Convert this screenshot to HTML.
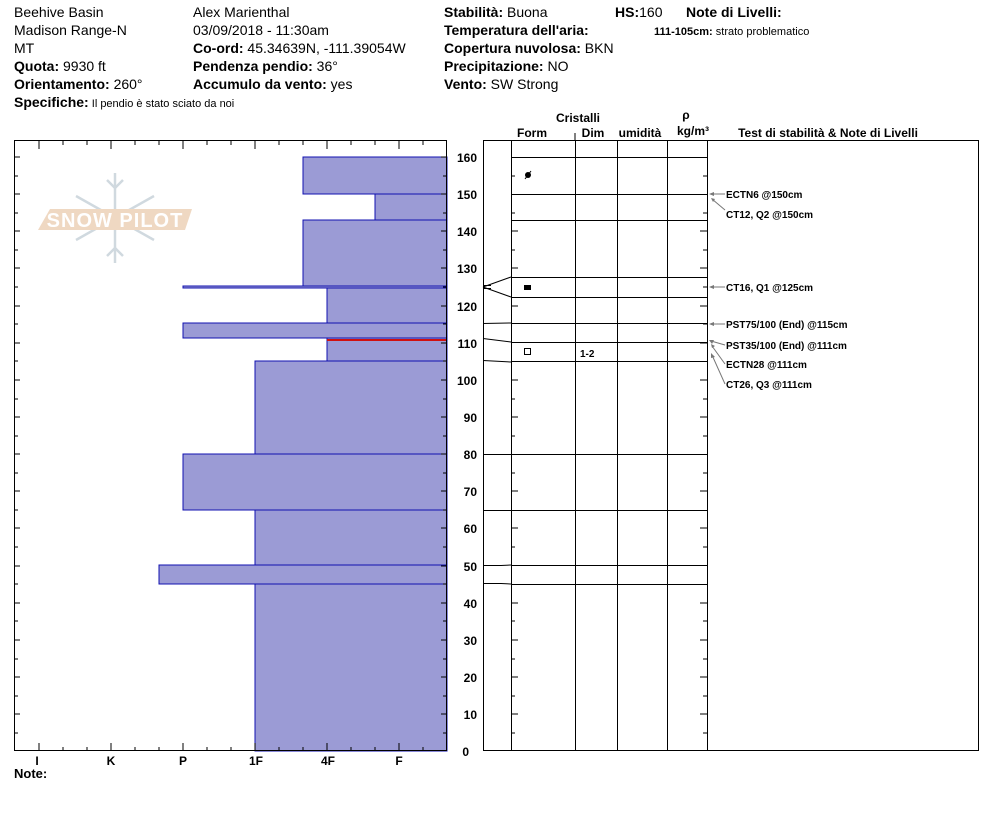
<!DOCTYPE html>
<html><head><meta charset="utf-8"><style>
body{margin:0;background:#fff;}
svg{display:block;font-family:"Liberation Sans",Arial,sans-serif;}
.h{font-size:14px;fill:#000}
.b{font-weight:bold}
.s{font-size:11px;font-weight:bold}
</style></head><body>
<svg width="994" height="840" viewBox="0 0 994 840" xmlns="http://www.w3.org/2000/svg">
<!-- header -->
<g class="h">
<text x="14" y="17">Beehive Basin</text>
<text x="14" y="35">Madison Range-N</text>
<text x="14" y="53">MT</text>
<text x="14" y="71"><tspan class="b">Quota:</tspan> 9930 ft</text>
<text x="14" y="89"><tspan class="b">Orientamento:</tspan> 260°</text>
<text x="14" y="107"><tspan class="b">Specifiche:</tspan><tspan font-size="11"> Il pendio è stato sciato da noi</tspan></text>
<text x="193" y="17">Alex Marienthal</text>
<text x="193" y="35">03/09/2018 - 11:30am</text>
<text x="193" y="53"><tspan class="b">Co-ord:</tspan> 45.34639N, -111.39054W</text>
<text x="193" y="71"><tspan class="b">Pendenza pendio:</tspan> 36°</text>
<text x="193" y="89"><tspan class="b">Accumulo da vento:</tspan> yes</text>
<text x="444" y="17"><tspan class="b">Stabilità:</tspan> Buona</text>
<text x="615" y="17"><tspan class="b">HS:</tspan>160</text>
<text x="686" y="17" class="b">Note di Livelli:</text>
<text x="444" y="35" class="b">Temperatura dell'aria:</text>
<text x="444" y="53"><tspan class="b">Copertura nuvolosa:</tspan> BKN</text>
<text x="444" y="71"><tspan class="b">Precipitazione:</tspan> NO</text>
<text x="444" y="89"><tspan class="b">Vento:</tspan>  SW Strong</text>
</g>
<text x="654" y="35" font-size="11"><tspan font-weight="bold">111-105cm:</tspan> strato problematico</text>

<!-- watermark -->
<g opacity="0.8">
<g stroke="#c5d0d8" stroke-width="2.5" fill="none" transform="translate(115,218)">
<line x1="0" y1="-45" x2="0" y2="45"/><line x1="-39" y1="-22" x2="39" y2="22"/><line x1="-39" y1="22" x2="39" y2="-22"/>
<path d="M-8,-38 L0,-30 L8,-38 M-8,38 L0,30 L8,38"/>
</g>
<polygon points="50,209 192,209 185,230 38,230" fill="#eccfb4"/>
<text x="115" y="227" text-anchor="middle" font-size="20" font-weight="bold" fill="#fff" letter-spacing="1">SNOW PILOT</text>
</g>

<!-- left bars -->
<g fill="#9b9bd5" stroke="#1010b0" stroke-width="1">
<rect x="303" y="157" width="144" height="37"/>
<rect x="375" y="194" width="72" height="26"/>
<rect x="303" y="220" width="144" height="66"/>
<rect x="183" y="286" width="264" height="2"/>
<rect x="327" y="288" width="120" height="35"/>
<rect x="183" y="323" width="264" height="15"/>
<rect x="327" y="338" width="120" height="23"/>
<rect x="255" y="361" width="192" height="93"/>
<rect x="183" y="454" width="264" height="56"/>
<rect x="255" y="510" width="192" height="55"/>
<rect x="159" y="565" width="288" height="19"/>
<rect x="255" y="584" width="192" height="167"/>
</g>
<line x1="327" y1="340" x2="447" y2="340" stroke="#d01010" stroke-width="2"/>

<!-- left frame -->
<rect x="14.5" y="140.5" width="432" height="610" fill="none" stroke="#000"/>
<g stroke="#000" id="lt">
<path d="M39,141v8 M111,141v8 M183,141v8 M255,141v8 M327,141v8 M399,141v8 M63,141v4 M87,141v4 M135,141v4 M159,141v4 M207,141v4 M231,141v4 M279,141v4 M303,141v4 M351,141v4 M375,141v4 M423,141v4"/>
<path d="M39,751v-8 M111,751v-8 M183,751v-8 M255,751v-8 M327,751v-8 M399,751v-8 M63,751v-4 M87,751v-4 M135,751v-4 M159,751v-4 M207,751v-4 M231,751v-4 M279,751v-4 M303,751v-4 M351,751v-4 M375,751v-4 M423,751v-4"/>
<path d="M14,157h6 M14,176h4 M14,194h6 M14,213h4 M14,231h6 M14,250h4 M14,268h6 M14,287h4 M14,306h6 M14,324h4 M14,343h6 M14,361h4 M14,380h6 M14,399h4 M14,417h6 M14,436h4 M14,454h6 M14,473h4 M14,491h6 M14,510h4 M14,528h6 M14,547h4 M14,566h6 M14,584h4 M14,603h6 M14,621h4 M14,640h6 M14,659h4 M14,677h6 M14,696h4 M14,714h6 M14,733h4"/>
<path d="M447,157h-6 M447,176h-4 M447,194h-6 M447,213h-4 M447,231h-6 M447,250h-4 M447,268h-6 M447,287h-4 M447,306h-6 M447,324h-4 M447,343h-6 M447,361h-4 M447,380h-6 M447,399h-4 M447,417h-6 M447,436h-4 M447,454h-6 M447,473h-4 M447,491h-6 M447,510h-4 M447,528h-6 M447,547h-4 M447,566h-6 M447,584h-4 M447,603h-6 M447,621h-4 M447,640h-6 M447,659h-4 M447,677h-6 M447,696h-4 M447,714h-6 M447,733h-4"/>
</g>
<g font-size="12" font-weight="bold" text-anchor="middle">
<text x="37" y="765">I</text><text x="111" y="765">K</text><text x="183" y="765">P</text><text x="256" y="765">1F</text><text x="328" y="765">4F</text><text x="399" y="765">F</text>
</g>
<text x="14" y="778" font-size="13" font-weight="bold">Note:</text>

<!-- depth numbers -->
<g font-size="12" font-weight="bold" text-anchor="end">
<text x="477" y="162">160</text><text x="477" y="199">150</text><text x="477" y="236">140</text><text x="477" y="273">130</text><text x="477" y="311">120</text><text x="477" y="348">110</text><text x="477" y="385">100</text><text x="477" y="422">90</text><text x="477" y="459">80</text><text x="477" y="496">70</text><text x="477" y="533">60</text><text x="477" y="571">50</text><text x="477" y="608">40</text><text x="477" y="645">30</text><text x="477" y="682">20</text><text x="477" y="719">10</text><text x="469" y="756">0</text>
</g>

<!-- right headers -->
<g font-size="12" font-weight="bold" text-anchor="middle">
<text x="578" y="122">Cristalli</text>
<text x="532" y="137">Form</text><text x="593" y="137">Dim</text><text x="640" y="137">umidità</text>
<text x="686" y="119">ρ</text><text x="693" y="135">kg/m³</text>
<text x="828" y="137">Test di stabilità &amp; Note di Livelli</text>
</g>
<line x1="575" y1="133" x2="575" y2="141" stroke="#000"/>

<!-- right frame -->
<rect x="483.5" y="140.5" width="495" height="610" fill="none" stroke="#000"/>
<g stroke="#000">
<path d="M511.5,141v610 M575.5,141v610 M617.5,141v610 M667.5,141v610 M707.5,141v610"/>
<path d="M511,157.5h196 M511,194.5h196 M511,220.5h196 M511,277.5h196 M511,297.5h196 M511,323.5h196 M511,342.5h196 M511,361.5h196 M483,454.5h224 M511,510.5h196 M511,565.5h196 M511,584.5h196"/>
<path d="M483,287 L511,277 M483,287 L511,297 M483,285.5 h8 M483,288.5 h8 M483,323.5 L511,323 M483,338.5 L511,342 M483,360.5 L511,362 M483,510.5 h28 M483,565.5 h18 L511,565 M483,583.5 h18 L511,584"/>
<path d="M511,176h4 M511,213h4 M511,231h7 M511,250h4 M511,268h7 M511,306h7 M511,380h7 M511,399h4 M511,417h7 M511,436h4 M511,473h4 M511,491h7 M511,528h7 M511,547h4 M511,603h7 M511,621h4 M511,640h7 M511,659h4 M511,677h7 M511,696h4 M511,714h7 M511,733h4"/>
<path d="M707,176h-4 M707,213h-4 M707,231h-7 M707,250h-4 M707,268h-7 M707,287h-4 M707,306h-7 M707,324h-4 M707,343h-7 M707,380h-7 M707,399h-4 M707,417h-7 M707,436h-4 M707,473h-4 M707,491h-7 M707,528h-7 M707,547h-4 M707,603h-7 M707,621h-4 M707,640h-7 M707,659h-4 M707,677h-7 M707,696h-4 M707,714h-7 M707,733h-4"/>
</g>
<!-- grain symbols -->
<circle cx="528" cy="175" r="3" fill="#000"/><line x1="525" y1="179" x2="531" y2="171" stroke="#000"/>
<rect x="524" y="285" width="7" height="5" fill="#000"/>
<rect x="524.5" y="348.5" width="6" height="6" fill="none" stroke="#000"/>
<text x="580" y="357" font-size="10" font-weight="bold">1-2</text>

<!-- tests -->
<g stroke="#777" fill="none">
<path d="M710,194 L725,194 M712,199 L725,210 M710,287 L725,287 M710,324 L725,324 M711,341 L725,345 M712,346 L725,364 M712,355 L725,384"/>
</g>
<g fill="#777">
<polygon points="709,194 714,192 714,196"/><polygon points="711,198 715,199 713,202"/>
<polygon points="709,287 714,285 714,289"/><polygon points="709,324 714,322 714,326"/>
<polygon points="709,340 714,340 712,344"/><polygon points="711,344 715,346 712,348"/><polygon points="711,353 715,357 711,358"/>
</g>
<g font-size="10" font-weight="bold">
<text x="726" y="198">ECTN6 @150cm</text>
<text x="726" y="218">CT12, Q2 @150cm</text>
<text x="726" y="291">CT16, Q1 @125cm</text>
<text x="726" y="328">PST75/100 (End) @115cm</text>
<text x="726" y="349">PST35/100 (End) @111cm</text>
<text x="726" y="368">ECTN28 @111cm</text>
<text x="726" y="388">CT26, Q3 @111cm</text>
</g>
</svg>
</body></html>
